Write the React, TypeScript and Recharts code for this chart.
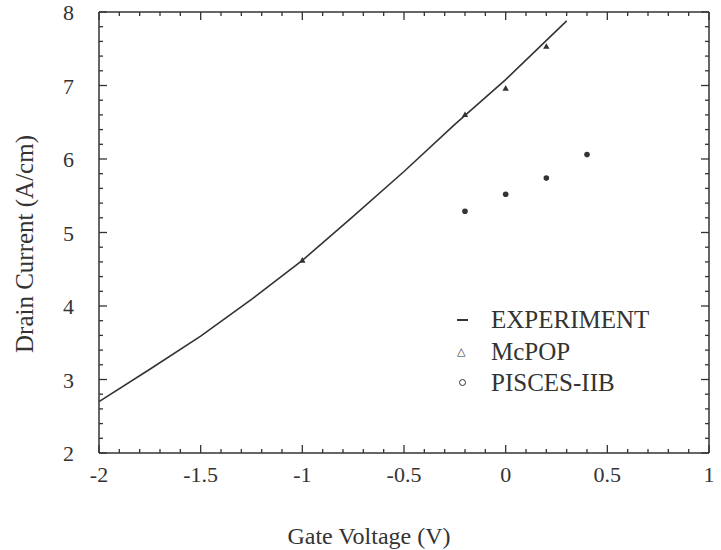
import { ScatterChart, Scatter, XAxis, YAxis, Legend, ReferenceLine } from "recharts";

// axis ticks
const xMajor = [-2, -1.5, -1, -0.5, 0, 0.5, 1];
const yMajor = [2, 3, 4, 5, 6, 7, 8];
const xMinorStep = 0.1;
const yMinorStep = 0.2;

// EXPERIMENT (solid curve)
const expX = [-2, -1.75, -1.5, -1.25, -1, -0.75, -0.5, -0.25, 0, 0.3];
const expY = [2.7, 3.14, 3.59, 4.09, 4.62, 5.22, 5.83, 6.47, 7.08, 7.88];

// McPOP (triangles)
const mcpopX = [-1, -0.2, 0, 0.2];
const mcpopY = [4.62, 6.6, 6.96, 7.53];

// PISCES-IIB (circles)
const piscesX = [-0.2, 0, 0.2, 0.4];
const piscesY = [5.29, 5.52, 5.74, 6.06];

const legendItems = ["EXPERIMENT", "McPOP", "PISCES-IIB"];
const xTitle = "Gate Voltage (V)";
const yTitle = "Drain Current (A/cm)";

const INK = "#333";
const FONT = "'Liberation Serif', 'Times New Roman', serif";

const W = 721;
const H = 550;
const M = { top: 12, right: 12, left: 99, bottom: 97 };

const pairs = (xs: number[], ys: number[]) => xs.map((x, i) => ({ x, y: ys[i] }));

const steps = (from: number, to: number, step: number) => {
  const out: number[] = [];
  const n = Math.round((to - from) / step);
  for (let i = 0; i <= n; i++) out.push(+(from + i * step).toFixed(2));
  return out;
};

const isMajor = (v: number, list: number[]) => list.some((m) => Math.abs(m - v) < 1e-6);

const xLo = xMajor[0];
const xHi = xMajor[xMajor.length - 1];
const yLo = yMajor[0];
const yHi = yMajor[yMajor.length - 1];
const xTicks = steps(xLo, xHi, xMinorStep);
const yTicks = steps(yLo, yHi, yMinorStep);

// tick length in pixels, turned into data units for the segments
const xPerPx = (xHi - xLo) / (W - M.left - M.right);
const yPerPx = (yHi - yLo) / (H - M.top - M.bottom);
const tickLen = (major: boolean) => (major ? 8 : 4);

const BottomLabel = (props: any) => {
  const { x, y, payload } = props;
  return (
    <text x={x} y={y + 29} textAnchor="middle" fontSize={22} fill={INK} fontFamily={FONT}>
      {String(payload.value)}
    </text>
  );
};

const LeftLabel = (props: any) => {
  const { x, y, payload } = props;
  return (
    <text x={x - 25} y={y + 8} textAnchor="end" fontSize={22} fill={INK} fontFamily={FONT}>
      {String(payload.value)}
    </text>
  );
};

const Triangle = (props: any) => {
  const { cx, cy } = props;
  return <path d={`M${cx},${cy - 3.4} L${cx + 3.2},${cy + 2.2} L${cx - 3.2},${cy + 2.2} Z`} fill={INK} />;
};

const Dot = (props: any) => {
  const { cx, cy } = props;
  return <circle cx={cx} cy={cy} r={2.8} fill={INK} />;
};

const NoDot = () => <g />;

const marker = (i: number) => {
  if (i === 0) return <div style={{ width: 11, height: 2, background: INK, marginLeft: 6 }} />;
  if (i === 1)
    return (
      <div style={{ marginLeft: 6, fontFamily: "'DejaVu Sans', sans-serif", fontSize: 11, lineHeight: 1 }}>
        {"\u25B3"}
      </div>
    );
  return (
    <div
      style={{ width: 5, height: 5, border: `1.5px solid ${INK}`, borderRadius: "50%", marginLeft: 8 }}
    />
  );
};

const LegendBox = () => (
  <div style={{ fontFamily: FONT, fontSize: 25, color: INK }}>
    {legendItems.map((name, i) => (
      <div key={name} style={{ display: "flex", alignItems: "center", height: 31.5 }}>
        <div style={{ width: 40, flex: "none", display: "flex", alignItems: "center" }}>{marker(i)}</div>
        <span style={{ lineHeight: 1 }}>{name}</span>
      </div>
    ))}
  </div>
);

export default function App() {
  const tickSegments: any[] = [];
  xTicks.forEach((x) => {
    const len = tickLen(isMajor(x, xMajor));
    tickSegments.push([{ x, y: yLo }, { x, y: yLo + len * yPerPx }]);
    tickSegments.push([{ x, y: yHi }, { x, y: yHi - len * yPerPx }]);
  });
  yTicks.forEach((y) => {
    const len = tickLen(isMajor(y, yMajor));
    tickSegments.push([{ x: xLo, y }, { x: xLo + len * xPerPx, y }]);
    tickSegments.push([{ x: xHi, y }, { x: xHi - len * xPerPx, y }]);
  });

  return (
    <div style={{ position: "absolute", left: 0, top: 0, width: W, height: H }}>
      <ScatterChart width={W} height={H} margin={{ top: M.top, right: M.right, bottom: 0, left: 0 }}>
        <XAxis
          type="number"
          dataKey="x"
          domain={[xLo, xHi]}
          ticks={xMajor}
          interval={0}
          height={M.bottom}
          tickSize={0}
          tickMargin={0}
          tickLine={false}
          tick={BottomLabel}
          axisLine={{ stroke: INK, strokeWidth: 1.5 }}
        />
        <YAxis
          type="number"
          dataKey="y"
          domain={[yLo, yHi]}
          ticks={yMajor}
          interval={0}
          width={M.left}
          tickSize={0}
          tickMargin={0}
          tickLine={false}
          tick={LeftLabel}
          axisLine={{ stroke: INK, strokeWidth: 1.5 }}
        />
        <ReferenceLine y={yHi} stroke={INK} strokeWidth={1.5} />
        <ReferenceLine x={xHi} stroke={INK} strokeWidth={1.5} />
        {tickSegments.map((seg, i) => (
          <ReferenceLine key={`t${i}`} segment={seg} stroke={INK} strokeWidth={1.3} ifOverflow="visible" />
        ))}
        <Legend
          layout="horizontal"
          verticalAlign="middle"
          align="center"
          wrapperStyle={{ left: 451, top: 304, width: "auto" }}
          content={() => <LegendBox />}
        />
        <Scatter
          name="EXPERIMENT"
          data={pairs(expX, expY)}
          line={{ stroke: INK, strokeWidth: 1.6 }}
          shape={NoDot}
          isAnimationActive={false}
        />
        <Scatter name="McPOP" data={pairs(mcpopX, mcpopY)} shape={Triangle} isAnimationActive={false} />
        <Scatter name="PISCES-IIB" data={pairs(piscesX, piscesY)} shape={Dot} isAnimationActive={false} />
      </ScatterChart>
      <div
        style={{
          position: "absolute",
          left: 369,
          top: 524,
          transform: "translateX(-50%)",
          whiteSpace: "nowrap",
          fontFamily: FONT,
          fontSize: 24,
          lineHeight: "24px",
          color: INK,
        }}
      >
        {xTitle}
      </div>
      <div
        style={{
          position: "absolute",
          left: 24,
          top: 244,
          transform: "translate(-50%, -50%) rotate(-90deg)",
          whiteSpace: "nowrap",
          fontFamily: FONT,
          fontSize: 25,
          lineHeight: "25px",
          color: INK,
        }}
      >
        {yTitle}
      </div>
    </div>
  );
}
